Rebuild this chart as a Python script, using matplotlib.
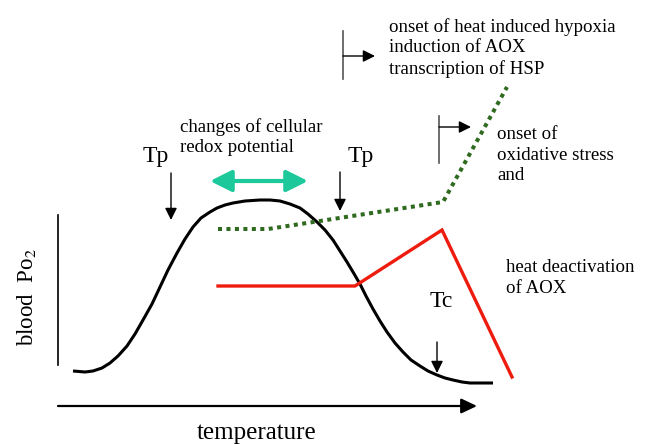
import numpy as np
import matplotlib.pyplot as plt

# schematic drawn in image pixel coordinates (x right, y down)
curve_x = [73, 85, 93, 102, 110, 118, 127, 135, 143, 152, 160, 168, 177, 185, 193, 201, 210, 217, 225, 233,
           245, 260, 270, 280, 290, 300, 308, 317, 325, 333, 340, 347, 353, 360, 366, 373, 380, 387, 395,
           403, 411, 420, 428, 437, 445, 453, 462, 470, 480, 493]
curve_y = [371, 372, 371, 368, 363, 356, 346, 334, 320, 304, 287, 270, 253, 239, 227, 218, 212, 208, 205, 203,
           201, 200, 200, 201, 204, 208, 214, 222, 230, 240, 251, 262, 272, 284, 296, 309, 321, 332, 343,
           352, 360, 366, 371, 375, 378, 380, 382, 383, 383, 383]

aox_x = [218, 268, 443, 507]
aox_y = [229, 229, 202, 87]

red_x = [218, 355, 442, 512]
red_y = [286, 286, 230, 377]

plt.rcParams['font.family'] = ['Liberation Serif', 'DejaVu Serif']
plt.rcParams['mathtext.fontset'] = 'stix'

fig = plt.figure(figsize=(6.48, 4.44), dpi=100)
ax = fig.add_axes([0, 0, 1, 1])
ax.set_xlim(0, 648)
ax.set_ylim(444, 0)
ax.axis('off')

def arrow(x0, y0, x1, y1, style, color='black', lw=1.0):
    ax.annotate('', xy=(x1, y1), xytext=(x0, y0),
                arrowprops=dict(arrowstyle=style, color=color, lw=lw, mutation_scale=10,
                                shrinkA=0, shrinkB=0))

small = '-|>,head_length=0.72,head_width=0.36'

# axes of the sketch
ax.plot([58, 58], [215, 365], color='black', lw=1.2)
arrow(58, 406, 477, 406, '-|>,head_length=0.95,head_width=0.45', lw=1.6)
ax.text(257, 433, 'temperature', fontsize=18, ha='center', va='center')
ax.text(26, 297, 'blood  Po$_2$', fontsize=16.5, ha='center', va='center', rotation=90)

# curves
ax.plot(curve_x, curve_y, color='black', lw=2.2, solid_capstyle='butt')
ax.plot(aox_x, aox_y, color='#2e6b1f', lw=2.9, linestyle=(0, (1, 1.1)), dash_capstyle='butt')
ax.plot(red_x, red_y, color='#ee1c0e', lw=2.4, solid_joinstyle='miter')

# redox arrow
arrow(210, 181, 308, 181, '<|-|>,head_length=1.3,head_width=0.65', color='#1dc99b', lw=3)
ax.text(180, 137, 'changes of cellular\nredox potential', fontsize=13.6, ha='left', va='center', linespacing=1.25)

# Tp / Tc markers
ax.text(156, 156, 'Tp', fontsize=17, ha='center', va='center')
arrow(171, 173, 171, 220, small)
ax.text(361, 156, 'Tp', fontsize=17, ha='center', va='center')
arrow(340, 172, 340, 211, small)
ax.text(441, 301, 'Tc', fontsize=17, ha='center', va='center')
arrow(437, 342, 437, 373, small)

# onset brackets
ax.plot([343, 343], [31, 79], color='#555555', lw=1.2)
arrow(343, 56, 375, 56, small)
ax.text(389, 48, 'onset of heat induced hypoxia\ninduction of AOX\ntranscription of HSP',
        fontsize=13.6, ha='left', va='center', linespacing=1.25)

ax.plot([439, 439], [116, 163], color='#555555', lw=1.2)
arrow(439, 127, 471, 127, small)
ax.text(497, 155, 'onset of\noxidative stress\nand', fontsize=13.6, ha='left', va='center', linespacing=1.25)

ax.text(506, 278, 'heat deactivation\nof AOX', fontsize=13.6, ha='left', va='center', linespacing=1.25)

fig.savefig('out.png', dpi=100)
